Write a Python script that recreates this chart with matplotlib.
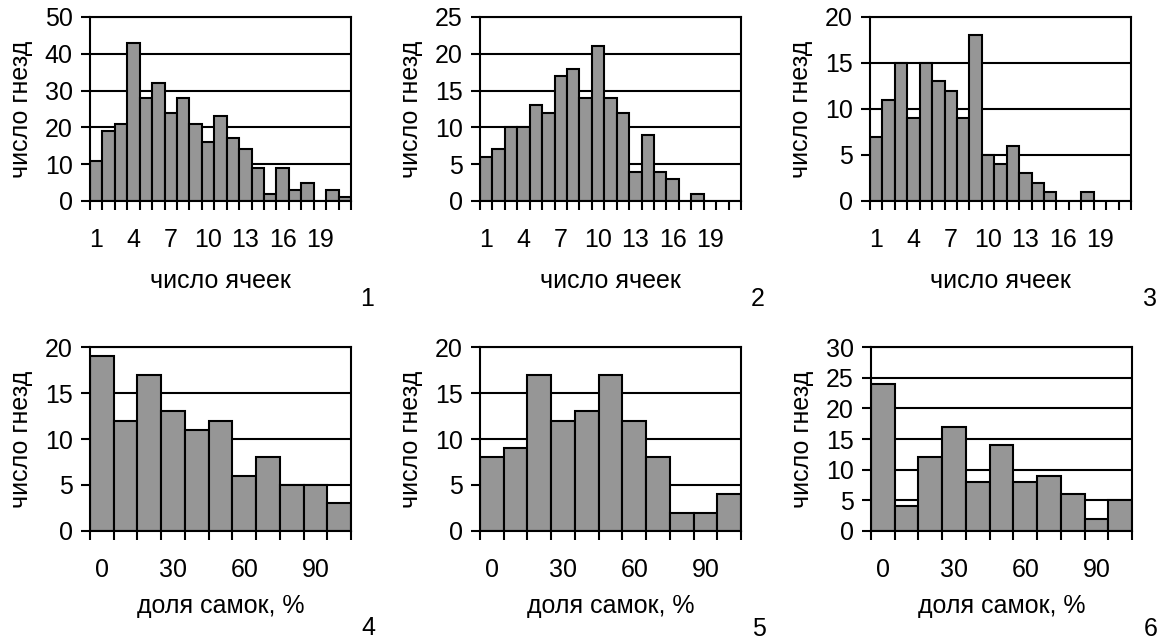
import matplotlib
matplotlib.use("Agg")
import matplotlib.pyplot as plt
from matplotlib.ticker import FixedLocator, FixedFormatter

plt.rcParams['font.family'] = ['Liberation Sans', 'DejaVu Sans']

# ---- data ----
cells = list(range(1, 22))                      # число ячеек 1..21
share = [0, 10, 20, 30, 40, 50, 60, 70, 80, 90, 100]  # доля самок, %

counts1 = [11, 19, 21, 43, 28, 32, 24, 28, 21, 16, 23, 17, 14, 9, 2, 9, 3, 5, 0, 3, 1]
counts2 = [6, 7, 10, 10, 13, 12, 17, 18, 14, 21, 14, 12, 4, 9, 4, 3, 0, 1, 0, 0, 0]
counts3 = [7, 11, 15, 9, 15, 13, 12, 9, 18, 5, 4, 6, 3, 2, 1, 0, 0, 1, 0, 0, 0]
counts4 = [19, 12, 17, 13, 11, 12, 6, 8, 5, 5, 3]
counts5 = [8, 9, 17, 12, 13, 17, 12, 8, 2, 2, 4]
counts6 = [24, 4, 12, 17, 8, 14, 8, 9, 6, 2, 5]

ymax_top = [50, 25, 20]
ystep_top = [10, 5, 5]
ymax_bot = [20, 20, 30]
ystep_bot = [5, 5, 5]

ylabel = "число гнезд"
xlabel_top = "число ячеек"
xlabel_bot = "доля самок, %"
panel_ids = ["1", "2", "3", "4", "5", "6"]

W, H = 1162, 644
fig = plt.figure(figsize=(W / 100, H / 100), dpi=100)
FS = 18
LW = 1.5
GRAY = "#969696"

def px_axes(l, t, r, b):
    return fig.add_axes([l / W, 1 - b / H, (r - l) / W, (b - t) / H])

def draw(ax, cats, vals, ymax, ystep, label_every, xlabel):
    n = len(cats)
    idx = list(range(1, n + 1))
    ax.set_axisbelow(True)
    ax.bar(idx, vals, width=1.0, color=GRAY, edgecolor="black", linewidth=LW, zorder=2)
    ax.set_xlim(0.5, n + 0.5)
    ax.set_ylim(0, ymax)
    yt = list(range(0, ymax + 1, ystep))
    ax.set_yticks(yt)
    ax.set_yticklabels([str(v) for v in yt])
    for v in yt[1:]:
        ax.axhline(v, color="black", lw=LW, zorder=1)
    lab_pos = idx[::label_every]
    ax.xaxis.set_major_locator(FixedLocator(lab_pos))
    ax.xaxis.set_major_formatter(FixedFormatter([str(c) for c in cats[::label_every]]))
    ax.xaxis.set_minor_locator(FixedLocator([i + 0.5 for i in range(0, n + 1)]))
    ax.tick_params(axis='x', which='major', length=0, pad=19.5, labelsize=FS)
    ax.tick_params(axis='x', which='minor', length=6.5, width=LW, direction='out')
    ax.tick_params(axis='y', which='major', length=6.5, width=LW, direction='out',
                   pad=6, labelsize=FS)
    for s in ax.spines.values():
        s.set_linewidth(LW)
        s.set_color("black")
    ax.set_ylabel(ylabel, fontsize=FS)
    ax.yaxis.set_label_coords(-0.22, 0.5)
    ax.set_xlabel(xlabel, fontsize=FS)

top_boxes = [(90, 17, 351, 201), (480, 17, 741, 201), (870, 17, 1131, 201)]
bot_boxes = [(90, 347, 351, 531), (480, 347, 741, 531), (871, 347, 1132, 531)]
top_data = [counts1, counts2, counts3]
bot_data = [counts4, counts5, counts6]

for i in range(3):
    ax = px_axes(*top_boxes[i])
    draw(ax, cells, top_data[i], ymax_top[i], ystep_top[i], 3, xlabel_top)
    ax.xaxis.set_label_coords(0.5, -0.369)
    ax = px_axes(*bot_boxes[i])
    draw(ax, share, bot_data[i], ymax_bot[i], ystep_bot[i], 3, xlabel_bot)
    ax.xaxis.set_label_coords(0.5, -0.345)

num_pos = [(367, 299), (758, 299), (1150, 299), (368, 628), (759, 629), (1151, 629)]
for lab, (x, y) in zip(panel_ids, num_pos):
    fig.text(x / W, 1 - y / H, lab, fontsize=FS, ha="center", va="center")

fig.savefig("out.png", dpi=100, facecolor="white")
